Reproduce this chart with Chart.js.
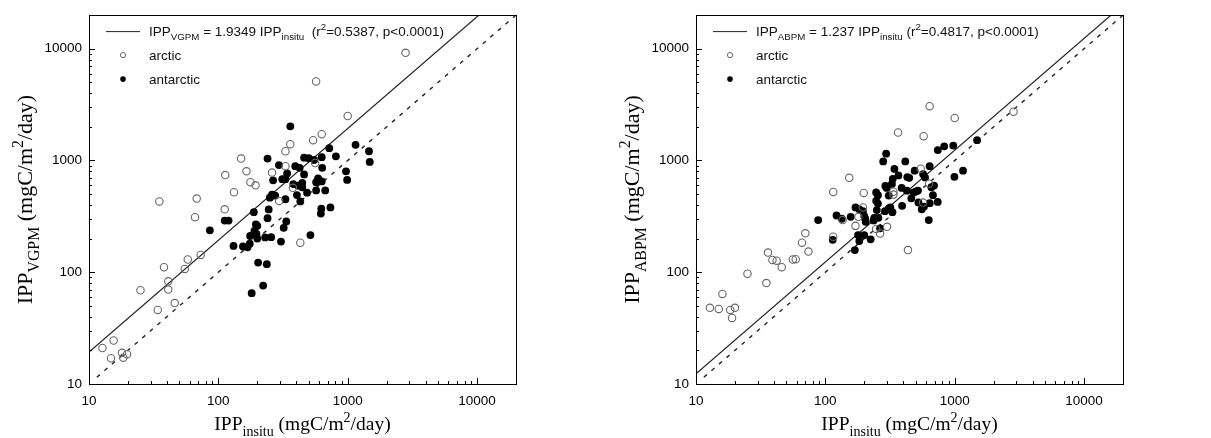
<!DOCTYPE html>
<html>
<head>
<meta charset="utf-8">
<script src="https://cdn.jsdelivr.net/npm/chart.js@4.4.1/dist/chart.umd.min.js"></script>
<style>
  html, body { margin: 0; padding: 0; background: #fff; }
  #wrap { position: relative; width: 1211px; height: 438px; }
  .panel { position: absolute; top: 0; height: 438px; }
</style>
</head>
<body>
<div id="wrap">
  <div class="panel" style="left:0;width:605px"><canvas id="vgpm" width="605" height="438"></canvas></div>
  <div class="panel" style="left:605px;width:606px"><canvas id="abpm" width="606" height="438"></canvas></div>
</div>
<script>
// ---- axes ----
const axisMin = 10;
const axisMax = 20000;
const tickValues = [10, 100, 1000, 10000];
const decades = [10, 100, 1000, 10000];

// ---- VGPM panel (left) ----
const vgpmSlope = 1.9349;
const vgpmArcticX = [2800, 570, 1000, 630, 540, 360, 330, 150, 330, 560, 165, 113, 260, 177, 194, 132, 68, 35, 295, 377,
  112, 66, 430, 73, 58, 38, 55, 41, 41, 25, 46, 34, 12.7, 15.5, 14.8, 18, 18.4, 19.7];
const vgpmArcticY = [9200, 5100, 2500, 1720, 1520, 1400, 1210, 1040, 890, 950, 800, 740, 780, 640, 600, 520, 456, 430, 435, 570,
  366, 311, 184, 143, 130, 111, 107, 83, 70, 69, 53, 46, 21, 24.5, 17, 19, 17.2, 18.5];
const vgpmAntarcticX = [360, 1150, 1460, 1480, 720, 810, 970, 990, 240, 294, 393, 425, 460, 500, 550, 630, 635, 460, 330, 312,
  340, 265, 380, 415, 445, 445, 405, 430, 485, 570, 590, 570, 630, 670, 625, 620, 735, 330, 335, 320,
  260, 250, 275, 245, 240, 188, 112, 120, 86, 195, 200, 190, 197, 176, 200, 175, 168, 155, 131, 230,
  256, 305, 515, 203, 237, 222, 181];
const vgpmAntarcticY = [2020, 1380, 1210, 970, 1290, 1090, 800, 670, 1040, 910, 890, 860, 1060, 1050, 1010, 1070, 860, 750, 680, 680,
  765, 665, 615, 595, 630, 575, 490, 430, 515, 540, 690, 640, 650, 540, 370, 335, 380, 450, 285, 250,
  495, 465, 485, 365, 305, 345, 290, 290, 237, 268, 260, 234, 220, 211, 200, 180, 167, 170, 172, 205,
  206, 188, 215, 122, 118, 76, 65];

// ---- ABPM panel (right) ----
const abpmSlope = 1.237;
const abpmArcticX = [2850, 640, 1000, 365, 575, 153, 546, 115, 198, 336, 336, 195, 180, 136, 171, 70, 66, 74, 36, 39,
  42, 56, 59, 46, 25, 35, 16, 12.8, 15, 18.4, 20, 19, 115, 265, 300, 435, 247, 570, 634];
const abpmArcticY = [2730, 3060, 2400, 1780, 1650, 700, 845, 523, 513, 525, 495, 380, 313, 293, 260, 223, 184, 153, 150, 129,
  127, 130, 131, 111, 97, 80, 64, 48, 47, 46, 48, 39, 208, 222, 255, 158, 244, 420, 620];
const abpmAntarcticX = [1490, 1160, 995, 975, 830, 740, 640, 295, 280, 415, 342, 367, 332, 430, 445, 490, 570, 590, 327, 291,
  298, 309, 247, 255, 247, 255, 250, 239, 257, 236, 265, 309, 318, 330, 389, 392, 427, 462, 482, 520,
  505, 524, 556, 579, 641, 679, 660, 692, 630, 739, 157, 122, 134, 88, 114, 171, 183, 195, 200, 203,
  205, 179, 183, 169, 200, 224, 289];
const abpmAntarcticY = [1520, 810, 715, 1360, 1340, 1240, 890, 1150, 980, 980, 840, 735, 685, 710, 700, 810, 755, 705, 617, 592,
  568, 485, 517, 489, 436, 412, 360, 307, 307, 291, 247, 372, 380, 345, 568, 393, 537, 459, 517, 538,
  530, 421, 366, 387, 415, 489, 576, 596, 293, 426, 313, 322, 301, 293, 195, 380, 366, 352, 318, 303,
  283, 215, 190, 158, 215, 197, 352];

// fit line and 1:1 line ranges
const fitRange = [10, 20000];
const oneToOneRange = [11.5, 20000];

const sans = "'Liberation Sans', Arial, sans-serif";
const serif = "'Liberation Serif', 'Times New Roman', serif";

function pts(xs, ys) { return xs.map((x, i) => ({ x: x, y: ys[i] })); }

// draw text made of normal / subscript / superscript pieces
function drawRich(ctx, parts, x, y, size, family, align) {
  const sub = size * 0.72;
  const widths = parts.map(p => {
    ctx.font = (p[1] ? sub : size) + 'px ' + family;
    return ctx.measureText(p[0]).width;
  });
  const total = widths.reduce((a, b) => a + b, 0);
  let cx = align === 'center' ? x - total / 2 : x;
  ctx.textAlign = 'left';
  ctx.textBaseline = 'alphabetic';
  parts.forEach((p, i) => {
    ctx.font = (p[1] ? sub : size) + 'px ' + family;
    let dy = 0;
    if (p[1] === 'sub') dy = size * 0.32;
    if (p[1] === 'sup') dy = -size * 0.42;
    ctx.fillText(p[0], cx, y + dy);
    cx += widths[i];
  });
}

const framePlugin = {
  id: 'frame',
  afterDraw(chart) {
    const opts = chart.options.plugins.frame;
    const { ctx, chartArea: a, scales: { x, y } } = chart;
    ctx.save();
    ctx.strokeStyle = '#000';
    ctx.lineWidth = 1;
    // inward ticks on bottom and left axes
    ctx.beginPath();
    decades.forEach(d => {
      for (let m = 1; m <= 9; m++) {
        const v = d * m;
        if (v > axisMax) continue;
        const len = m === 1 ? 6 : 3;
        const px = Math.round(x.getPixelForValue(v)) + 0.5;
        ctx.moveTo(px, a.bottom);
        ctx.lineTo(px, a.bottom - len);
        const py = Math.round(y.getPixelForValue(v)) + 0.5;
        ctx.moveTo(a.left, py);
        ctx.lineTo(a.left + len, py);
      }
    });
    ctx.stroke();
    ctx.strokeRect(Math.round(a.left) + 0.5, Math.round(a.top) + 0.5,
      Math.round(a.right - a.left), Math.round(a.bottom - a.top));

    // axis titles
    ctx.fillStyle = '#000';
    drawRich(ctx, opts.xTitle, (a.left + a.right) / 2, 430, 19.5, serif, 'center');
    ctx.save();
    ctx.translate(a.left - 57, (a.top + a.bottom) / 2);
    ctx.rotate(-Math.PI / 2);
    drawRich(ctx, opts.yTitle, 0, 0, 22, serif, 'center');
    ctx.restore();

    // legend
    const lx = a.left, ty = a.top;
    ctx.strokeStyle = '#222';
    ctx.beginPath();
    ctx.moveTo(lx + 17, ty + 16.5);
    ctx.lineTo(lx + 51, ty + 16.5);
    ctx.stroke();
    ctx.fillStyle = '#111';
    drawRich(ctx, opts.legendFit, lx + 60, ty + 20.5, 13.5, sans, 'left');
    ctx.strokeStyle = '#666';
    ctx.beginPath();
    ctx.arc(lx + 34, ty + 40, 2.6, 0, Math.PI * 2);
    ctx.stroke();
    drawRich(ctx, [['arctic']], lx + 60, ty + 44.5, 13.5, sans, 'left');
    ctx.fillStyle = '#000';
    ctx.beginPath();
    ctx.arc(lx + 34, ty + 64, 2.8, 0, Math.PI * 2);
    ctx.fill();
    ctx.fillStyle = '#111';
    drawRich(ctx, [['antarctic']], lx + 60, ty + 68.5, 13.5, sans, 'left');
    ctx.restore();
  }
};

function logAxis(fitSize, isX) {
  return {
    type: 'logarithmic',
    min: axisMin,
    max: axisMax,
    position: isX ? 'bottom' : 'left',
    grid: { display: false, drawTicks: false },
    border: { display: false },
    ticks: {
      color: '#000',
      font: { family: sans, size: 13.5 },
      padding: isX ? 9 : 7,
      maxRotation: 0,
      autoSkip: false,
      callback: v => String(v)
    },
    afterBuildTicks: s => { s.ticks = tickValues.map(v => ({ value: v })); },
    afterFit: s => { if (isX) s.height = fitSize; else s.width = fitSize; }
  };
}

function makePanel(id, slope, arcticX, arcticY, antX, antY, yAxisWidth, rightPad, yTitle, legendFit) {
  return new Chart(document.getElementById(id), {
    type: 'scatter',
    data: {
      datasets: [
        { label: 'arctic', data: pts(arcticX, arcticY), pointRadius: 3.7, pointBorderWidth: 1.1,
          pointBackgroundColor: 'rgba(0,0,0,0)', pointBorderColor: '#666' },
        { label: 'antarctic', data: pts(antX, antY), pointRadius: 3.9, pointBorderWidth: 0,
          pointBackgroundColor: '#000', pointBorderColor: '#000' },
        { label: 'fit', type: 'line', data: fitRange.map(v => ({ x: v, y: slope * v })),
          borderColor: '#222', borderWidth: 1.2, pointRadius: 0, fill: false },
        { label: '1:1', type: 'line', data: oneToOneRange.map(v => ({ x: v, y: v })),
          borderColor: '#222', borderWidth: 1.4, borderDash: [4, 6], pointRadius: 0, fill: false }
      ]
    },
    options: {
      responsive: false,
      animation: false,
      layout: { padding: { left: 0, right: rightPad, top: 13, bottom: 0 } },
      plugins: {
        legend: { display: false },
        tooltip: { enabled: false },
        frame: {
          xTitle: [['IPP'], ['insitu', 'sub'], [' (mgC/m'], ['2', 'sup'], ['/day)']],
          yTitle: yTitle,
          legendFit: legendFit
        }
      },
      scales: {
        x: logAxis(54, true),
        y: logAxis(yAxisWidth, false)
      }
    },
    plugins: [framePlugin]
  });
}

makePanel('vgpm', vgpmSlope, vgpmArcticX, vgpmArcticY, vgpmAntarcticX, vgpmAntarcticY, 89, 89,
  [['IPP'], ['VGPM', 'sub'], [' (mgC/m'], ['2', 'sup'], ['/day)']],
  [['IPP'], ['VGPM', 'sub'], [' = 1.9349 IPP'], ['insitu', 'sub'], ['  (r'], ['2', 'sup'], ['=0.5387, p<0.0001)']]);

makePanel('abpm', abpmSlope, abpmArcticX, abpmArcticY, abpmAntarcticX, abpmAntarcticY, 91, 88,
  [['IPP'], ['ABPM', 'sub'], [' (mgC/m'], ['2', 'sup'], ['/day)']],
  [['IPP'], ['ABPM', 'sub'], [' = 1.237 IPP'], ['insitu', 'sub'], [' (r'], ['2', 'sup'], ['=0.4817, p<0.0001)']]);
</script>
</body>
</html>
